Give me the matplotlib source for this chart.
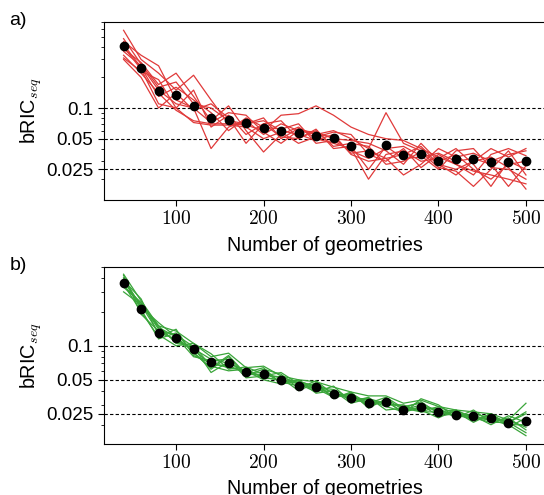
import numpy as np
import matplotlib
matplotlib.use('Agg')
import matplotlib.pyplot as plt
from matplotlib.ticker import FixedLocator, FixedFormatter, FuncFormatter, LogLocator, NullFormatter

plt.rcParams['font.family'] = ['Liberation Sans', 'DejaVu Sans']
plt.rcParams['mathtext.fontset'] = 'cm'

# Numero de geometrias
n_geom = [40, 60, 80, 100, 120, 140, 160, 180, 200, 220, 240, 260,
          280, 300, 320, 340, 360, 380, 400, 420, 440, 460, 480, 500]

# Panel a) promedio (puntos negros)
media_a = [0.408, 0.249, 0.148, 0.134, 0.104, 0.080, 0.076, 0.0707, 0.063, 0.0596, 0.0567, 0.053,
           0.0507, 0.0423, 0.0363, 0.0432, 0.0347, 0.0355, 0.0303, 0.0317, 0.0315, 0.0297, 0.0297, 0.0303]

# Panel a) corridas individuales
corridas_a = [
    [0.58, 0.30, 0.22, 0.15, 0.21, 0.12, 0.070, 0.068, 0.060, 0.085, 0.088, 0.105, 0.085, 0.065, 0.055, 0.050, 0.048, 0.040, 0.033, 0.028, 0.024, 0.022, 0.020, 0.018],
    [0.45, 0.33, 0.26, 0.12, 0.10, 0.040, 0.065, 0.075, 0.055, 0.070, 0.060, 0.055, 0.060, 0.050, 0.040, 0.090, 0.045, 0.038, 0.028, 0.022, 0.030, 0.040, 0.033, 0.040],
    [0.38, 0.28, 0.17, 0.22, 0.13, 0.075, 0.105, 0.060, 0.037, 0.055, 0.065, 0.050, 0.045, 0.040, 0.020, 0.035, 0.038, 0.030, 0.032, 0.040, 0.028, 0.017, 0.030, 0.025],
    [0.33, 0.22, 0.14, 0.095, 0.075, 0.070, 0.070, 0.070, 0.075, 0.060, 0.055, 0.048, 0.055, 0.035, 0.030, 0.032, 0.022, 0.028, 0.040, 0.033, 0.036, 0.030, 0.035, 0.038],
    [0.30, 0.20, 0.10, 0.14, 0.095, 0.11, 0.080, 0.045, 0.070, 0.052, 0.050, 0.060, 0.042, 0.045, 0.042, 0.028, 0.030, 0.037, 0.026, 0.024, 0.017, 0.025, 0.038, 0.022],
    [0.42, 0.25, 0.13, 0.16, 0.12, 0.090, 0.060, 0.080, 0.065, 0.062, 0.070, 0.045, 0.048, 0.038, 0.032, 0.040, 0.042, 0.034, 0.025, 0.038, 0.040, 0.026, 0.025, 0.020],
    [0.36, 0.26, 0.15, 0.11, 0.10, 0.072, 0.090, 0.085, 0.058, 0.045, 0.060, 0.058, 0.050, 0.048, 0.045, 0.038, 0.028, 0.045, 0.030, 0.035, 0.025, 0.020, 0.028, 0.030],
    [0.40, 0.24, 0.11, 0.10, 0.072, 0.068, 0.068, 0.065, 0.050, 0.058, 0.045, 0.052, 0.058, 0.055, 0.035, 0.030, 0.040, 0.026, 0.035, 0.028, 0.022, 0.035, 0.040, 0.034],
    [0.31, 0.23, 0.19, 0.10, 0.15, 0.065, 0.085, 0.055, 0.070, 0.075, 0.050, 0.062, 0.040, 0.042, 0.025, 0.042, 0.032, 0.033, 0.036, 0.030, 0.032, 0.028, 0.017, 0.027],
    [0.48, 0.27, 0.16, 0.18, 0.11, 0.100, 0.075, 0.070, 0.080, 0.050, 0.063, 0.055, 0.052, 0.036, 0.038, 0.032, 0.035, 0.042, 0.028, 0.025, 0.030, 0.033, 0.026, 0.016],
]

# Panel b) promedio
media_b = [0.358, 0.210, 0.130, 0.116, 0.094, 0.0713, 0.0707, 0.059, 0.0558, 0.0494, 0.0443, 0.0434,
           0.0373, 0.0344, 0.0311, 0.032, 0.0272, 0.029, 0.026, 0.0245, 0.0238, 0.0228, 0.0209, 0.0216]

# Panel b) corridas individuales
corridas_b = [
    [0.43, 0.25, 0.15, 0.135, 0.105, 0.080, 0.086, 0.064, 0.066, 0.054, 0.050, 0.048, 0.043, 0.039, 0.036, 0.036, 0.031, 0.033, 0.029, 0.027, 0.026, 0.025, 0.022, 0.031],
    [0.40, 0.22, 0.16, 0.12, 0.088, 0.062, 0.080, 0.055, 0.062, 0.056, 0.042, 0.049, 0.037, 0.037, 0.029, 0.033, 0.025, 0.034, 0.030, 0.023, 0.027, 0.021, 0.023, 0.018],
    [0.35, 0.20, 0.12, 0.14, 0.082, 0.070, 0.064, 0.060, 0.050, 0.046, 0.050, 0.038, 0.040, 0.031, 0.034, 0.030, 0.030, 0.026, 0.026, 0.027, 0.022, 0.025, 0.020, 0.016],
    [0.38, 0.26, 0.125, 0.10, 0.105, 0.085, 0.062, 0.065, 0.056, 0.052, 0.040, 0.047, 0.034, 0.039, 0.028, 0.034, 0.027, 0.030, 0.024, 0.025, 0.024, 0.020, 0.024, 0.021],
    [0.33, 0.24, 0.145, 0.12, 0.080, 0.074, 0.076, 0.052, 0.054, 0.058, 0.046, 0.039, 0.044, 0.032, 0.035, 0.027, 0.028, 0.032, 0.025, 0.026, 0.021, 0.025, 0.019, 0.023],
    [0.42, 0.19, 0.135, 0.125, 0.098, 0.058, 0.072, 0.058, 0.064, 0.046, 0.048, 0.044, 0.036, 0.036, 0.030, 0.032, 0.026, 0.028, 0.028, 0.023, 0.025, 0.023, 0.021, 0.025],
    [0.37, 0.23, 0.15, 0.105, 0.100, 0.066, 0.060, 0.062, 0.052, 0.050, 0.046, 0.041, 0.039, 0.033, 0.032, 0.031, 0.029, 0.027, 0.023, 0.027, 0.023, 0.022, 0.022, 0.019],
    [0.30, 0.23, 0.13, 0.115, 0.092, 0.068, 0.067, 0.057, 0.058, 0.048, 0.044, 0.046, 0.038, 0.035, 0.033, 0.029, 0.026, 0.029, 0.027, 0.024, 0.023, 0.021, 0.021, 0.017],
    [0.39, 0.21, 0.115, 0.13, 0.086, 0.064, 0.082, 0.056, 0.055, 0.053, 0.047, 0.042, 0.035, 0.038, 0.031, 0.035, 0.028, 0.026, 0.029, 0.025, 0.022, 0.024, 0.021, 0.026],
    [0.34, 0.24, 0.14, 0.11, 0.094, 0.076, 0.070, 0.060, 0.053, 0.049, 0.049, 0.043, 0.041, 0.034, 0.034, 0.031, 0.029, 0.031, 0.026, 0.024, 0.024, 0.022, 0.020, 0.020],
]

niveles = [0.025, 0.05, 0.1]
etiquetas_y = ['0.025', '0.05', '0.1']
ticks_x = [100, 200, 300, 400, 500]


def dibujar_panel(ax, corridas, media, color, ylim, letra):
    # Lineas de referencia
    for nv in niveles:
        ax.axhline(nv, color='black', ls='--', lw=0.8, dashes=(3, 2), zorder=1)
    # Corridas
    for c in corridas:
        ax.plot(n_geom, c, color=color, lw=0.9, zorder=2)
    # Promedio
    ax.plot(n_geom, media, 'o', color='black', ms=6, zorder=3)

    ax.set_yscale('log')
    ax.set_ylim(ylim)
    ax.set_xlim(17.5, 522.5)
    ax.yaxis.set_major_locator(FixedLocator(niveles))
    ax.yaxis.set_major_formatter(FixedFormatter(etiquetas_y))
    ax.yaxis.set_minor_locator(LogLocator(base=10, subs=np.arange(2, 10)))
    ax.yaxis.set_minor_formatter(NullFormatter())
    ax.xaxis.set_major_locator(FixedLocator(ticks_x))
    ax.xaxis.set_major_formatter(FuncFormatter(lambda v, p: r'$%d$' % v))
    ax.tick_params(axis='y', which='major', labelsize=13.5, length=4, width=0.8)
    ax.tick_params(axis='x', which='major', labelsize=14, length=4, width=0.8)
    ax.tick_params(axis='y', which='minor', length=2.5, width=0.6)
    ax.spines['right'].set_visible(False)

    ax.set_xlabel('Number of geometries', fontsize=14.2)
    ax.set_ylabel(r'bRIC$_{seq}$', fontsize=14.2)
    ax.xaxis.set_label_coords(0.5, -0.2)
    ax.yaxis.set_label_coords(-0.135, 0.5)
    ax.text(-0.214, 1.01, letra, transform=ax.transAxes, fontsize=14, ha='left', va='center')


fig = plt.figure(figsize=(5.44, 4.95), dpi=100)
ax1 = fig.add_axes([0.191, 0.596, 0.812, 0.3596])
ax2 = fig.add_axes([0.191, 0.103, 0.812, 0.358])

dibujar_panel(ax1, corridas_a, media_a, '#e03a3a', (0.0125, 0.70), 'a)')
dibujar_panel(ax2, corridas_b, media_b, '#3aa53a', (0.0135, 0.50), 'b)')

fig.savefig('out.png', dpi=100)
